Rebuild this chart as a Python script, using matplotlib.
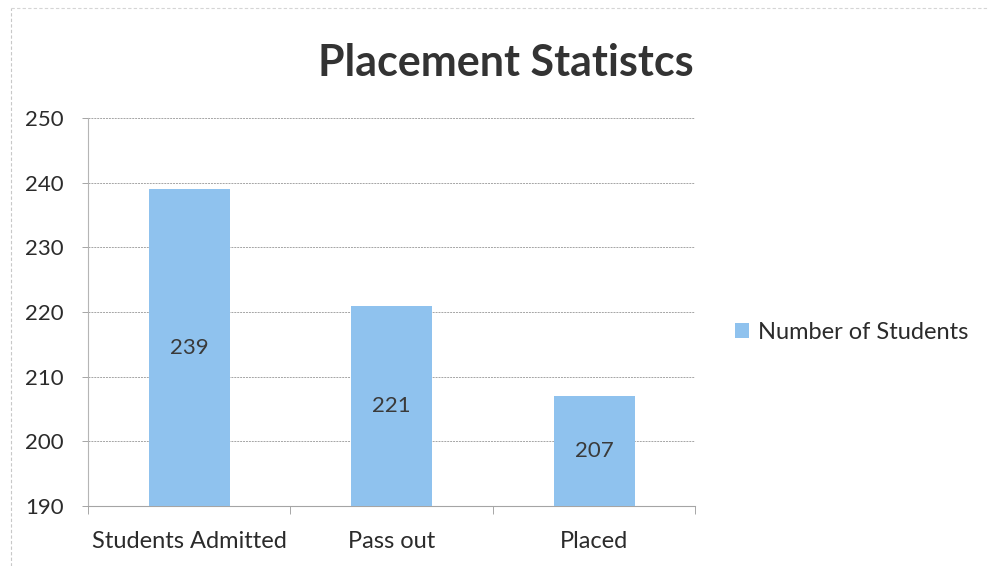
import numpy as np
import matplotlib.pyplot as plt

categories = ["Students Admitted", "Pass out", "Placed"]
students = [239, 221, 207]
series_name = "Number of Students"
title = "Placement Statistcs"
y_ticks = [190, 200, 210, 220, 230, 240, 250]

plt.rcParams['font.family'] = ['Lato', 'DejaVu Sans']
bar_color = "#8fc2ee"
text_color = "#2b2b2b"

fig = plt.figure(figsize=(9.89, 5.66), dpi=100)
ax = fig.add_axes([0.089, 0.106, 0.614, 0.6855])

x = np.arange(len(categories))
bars = ax.bar(x, students, width=0.4, bottom=0, color=bar_color, zorder=3, label=series_name)

# value labels sit in the middle of each bar
for xi, v in zip(x, students):
    ax.text(xi, (190 + v) / 2, str(v), ha="center", va="center",
            fontsize=16, color="#3a3a3a", zorder=4)

ax.set_xlim(-0.5, len(categories) - 0.5)
ax.set_ylim(190, 250)
ax.set_yticks(y_ticks)
ax.set_xticks(x)
ax.set_xticklabels(categories)
ax.tick_params(axis="x", labelsize=17, labelcolor=text_color, length=0, pad=18)
ax.tick_params(axis="y", labelsize=16, labelcolor=text_color, length=4.5,
               color="#a5a5a5", width=0.7, pad=13)

# small ticks between categories on the x axis
ax.set_xticks(np.arange(-0.5, len(categories)), minor=True)
ax.tick_params(axis="x", which="minor", length=6, color="#999999", direction="out")

ax.grid(axis="y", color="#a5a5a5", linestyle=(0, (2, 1)), linewidth=0.7, zorder=0)
for side in ["top", "right"]:
    ax.spines[side].set_visible(False)
ax.spines["left"].set_color("#b5b5b5")
ax.spines["left"].set_linestyle((0, (3, 1)))
ax.spines["bottom"].set_color("#a5a5a5")
ax.spines["bottom"].set_linestyle((0, (2, 1)))

fig.text(0.511, 0.888, title, ha="center", va="center", fontsize=31,
         fontweight="bold", color="#333333")

ax.legend(loc="center left", bbox_to_anchor=(1.03, 0.447), frameon=False,
          fontsize=17, handlelength=0.6, handleheight=0.6, handletextpad=0.4,
          labelcolor=text_color)

# faint chart border from the scan
fig.add_artist(plt.Line2D([0.011, 0.011], [0.0, 0.985], color="#c8c8c8",
                          linestyle=(0, (3, 2)), linewidth=0.8))
fig.add_artist(plt.Line2D([0.011, 1.0], [0.985, 0.985], color="#d5d5d5",
                          linestyle=(0, (3, 2)), linewidth=0.8))

fig.savefig("out.png", dpi=100)
